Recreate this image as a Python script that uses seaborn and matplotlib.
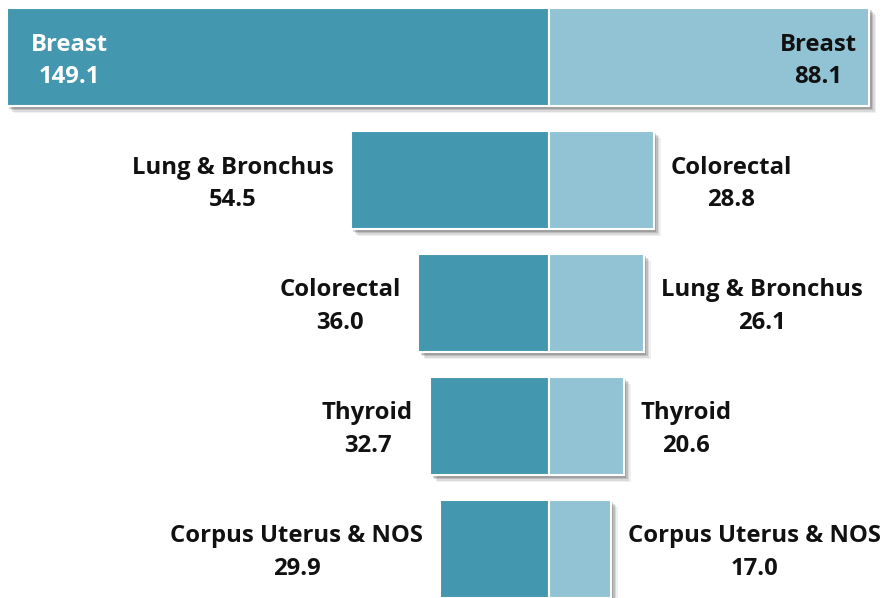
import numpy as np
import pandas as pd
import matplotlib
matplotlib.use("Agg")
import matplotlib.pyplot as plt
import matplotlib.transforms as mtransforms
from matplotlib.patches import Rectangle
import seaborn as sns

# Data
ranks = ["1", "2", "3", "4", "5"]
left_names = ["Breast", "Lung & Bronchus", "Colorectal", "Thyroid", "Corpus Uterus & NOS"]
left_values = [149.1, 54.5, 36.0, 32.7, 29.9]
right_names = ["Breast", "Colorectal", "Lung & Bronchus", "Thyroid", "Corpus Uterus & NOS"]
right_values = [88.1, 28.8, 26.1, 20.6, 17.0]

dark = "#4398B0"
light = "#92C3D5"
textc = "#111111"

sns.set_theme(style="white")
plt.rcParams["font.family"] = ["Open Sans", "DejaVu Sans"]

fig = plt.figure(figsize=(8.86, 5.98), dpi=100)
ax = fig.add_axes([0, 0, 1, 1])

df_l = pd.DataFrame({"rank": ranks, "value": [-v for v in left_values]})
df_r = pd.DataFrame({"rank": ranks, "value": right_values})

sns.barplot(data=df_l, x="value", y="rank", orient="h", color=dark, saturation=1,
            width=0.8, edgecolor="white", linewidth=1.5, ax=ax, order=ranks)
sns.barplot(data=df_r, x="value", y="rank", orient="h", color=light, saturation=1,
            width=0.8, edgecolor="white", linewidth=1.5, ax=ax, order=ranks)

ax.set_xlim(-151.0, 92.7)
ax.set_ylim(4.40, -0.465)
ax.axis("off")

# Soft drop shadows
for p in list(ax.patches):
    x0, y0 = p.get_x(), p.get_y()
    w, h = p.get_width(), p.get_height()
    for k, a in [(7, 0.06), (5.5, 0.09), (4, 0.13), (2.5, 0.16)]:
        tr = mtransforms.offset_copy(ax.transData, fig=fig, x=k * 0.72, y=-k * 0.72, units="points")
        r = Rectangle((x0, y0), w, h, transform=tr, facecolor="black", alpha=a,
                      edgecolor="none", zorder=0.5)
        ax.add_patch(r)
for p in ax.patches:
    if p.get_zorder() != 0.5:
        p.set_zorder(2)

fs = 17.2
ls = 1.47
gap = 17 / 3.64
dy = 0.03
for i, (n, v) in enumerate(zip(left_names, left_values)):
    if i == 0:
        ax.text(-v + 17.2, i + dy, f"{n}\n{v:.1f}", ha="center", va="center", color="white",
                fontsize=fs, fontweight="bold", linespacing=ls, zorder=3)
    else:
        ax.text(-v - gap, i + dy, f"{n}\n{v:.1f}", ha="right", va="center", multialignment="center",
                color=textc, fontsize=fs, fontweight="bold", linespacing=ls, zorder=3)
for i, (n, v) in enumerate(zip(right_names, right_values)):
    if i == 0:
        ax.text(v - 14.0, i + dy, f"{n}\n{v:.1f}", ha="center", va="center", color=textc,
                fontsize=fs, fontweight="bold", linespacing=ls, zorder=3)
    else:
        ax.text(v + gap, i + dy, f"{n}\n{v:.1f}", ha="left", va="center", multialignment="center",
                color=textc, fontsize=fs, fontweight="bold", linespacing=ls, zorder=3)

fig.savefig("out.png", dpi=100, facecolor="white")
